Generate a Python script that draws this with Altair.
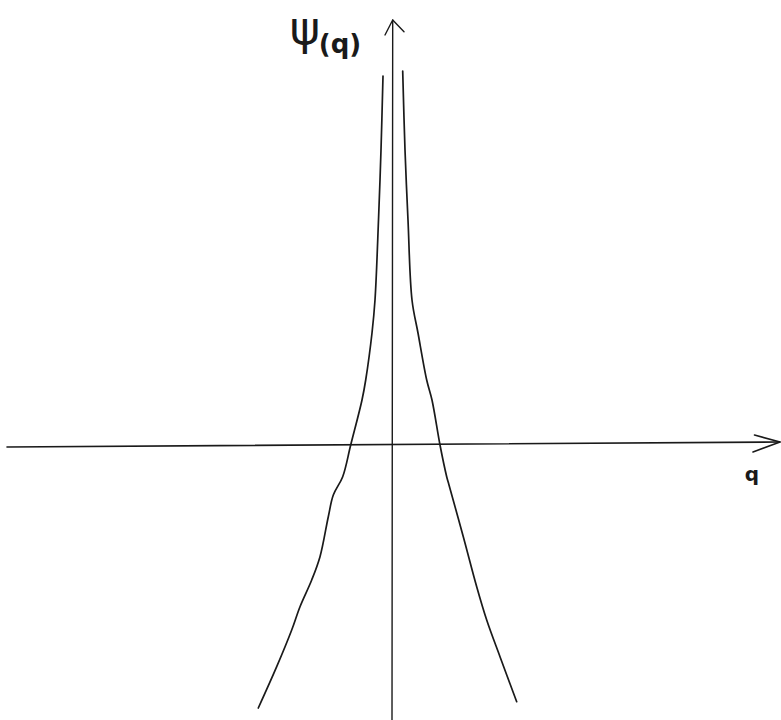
import altair as alt
import pandas as pd

# Left branch of psi(q), diverging as q -> 0 from below
left_q = [-0.17, -0.21, -0.26, -0.33, -0.39, -0.516, -0.59, -0.816,
          -0.976, -1.164, -1.264, -1.43, -1.596, -1.83, -1.996, -2.296, -2.664]
left_psi = [7.38, 5.9, 4.5, 2.9, 2.24, 1.3, 0.9, 0.0,
            -0.634, -1.0, -1.434, -2.234, -2.7, -3.234, -3.7, -4.434, -5.26]

# Right branch of psi(q), diverging as q -> 0 from above
right_q = [0.224, 0.27, 0.33, 0.41, 0.53, 0.704, 0.81, 0.97,
           1.104, 1.15, 1.436, 1.704, 1.904, 2.17, 2.504]
right_psi = [7.48, 5.9, 4.5, 2.9, 2.24, 1.3, 0.9, 0.0,
             -0.634, -0.8, -1.834, -2.834, -3.5, -4.234, -5.134]

# Hand-drawn axes and their arrowheads
q_axis_q = [-7.69, 7.77]
q_axis_psi = [-0.04, 0.06]
q_head_q = [7.26, 7.77, 7.23]
q_head_psi = [0.2, 0.06, -0.14]
psi_axis_q = [0.024, 0.01]
psi_axis_psi = [8.5, -5.5]
psi_head_q = [-0.13, 0.024, 0.25]
psi_head_psi = [8.2, 8.5, 8.266]

# Axis labels
label_psi = "ψ"
label_psi_arg = "(q)"
label_q = "q"

Q_DOMAIN = [-7.83, 7.79]
PSI_DOMAIN = [-5.5, 8.9]


def segment(name, qs, ps, width):
    return pd.DataFrame({"seg": name, "i": range(len(qs)), "q": qs, "psi": ps, "w": width})


branches = pd.concat([
    segment("left", left_q, left_psi, 1.7),
    segment("right", right_q, right_psi, 1.7),
], ignore_index=True)

axes = pd.concat([
    segment("q_axis", q_axis_q, q_axis_psi, 1.6),
    segment("q_head", q_head_q, q_head_psi, 1.6),
    segment("psi_axis", psi_axis_q, psi_axis_psi, 1.4),
    segment("psi_head", psi_head_q, psi_head_psi, 1.4),
], ignore_index=True)

xs = alt.Scale(domain=Q_DOMAIN, nice=False, zero=False)
ys = alt.Scale(domain=PSI_DOMAIN, nice=False, zero=False)

enc = dict(
    x=alt.X("q:Q", scale=xs, axis=None),
    y=alt.Y("psi:Q", scale=ys, axis=None),
    detail="seg:N",
    order="i:Q",
    strokeWidth=alt.StrokeWidth("w:Q", scale=None, legend=None),
)

curves = alt.Chart(branches).mark_line(
    color="#1a1a1a", strokeCap="round", strokeJoin="round", interpolate="catmull-rom"
).encode(**enc)

axis_lines = alt.Chart(axes).mark_line(
    color="#1a1a1a", strokeCap="round", strokeJoin="round"
).encode(**enc)

psi_text = alt.Chart(pd.DataFrame({"q": [-1.73], "psi": [8.3], "t": [label_psi]})).mark_text(
    font="DejaVu Sans", fontSize=46, color="#1a1a1a", align="center", baseline="middle"
).encode(x=alt.X("q:Q", scale=xs), y=alt.Y("psi:Q", scale=ys), text="t:N")

psi_arg_text = alt.Chart(pd.DataFrame({"q": [-1.03], "psi": [8.0], "t": [label_psi_arg]})).mark_text(
    font="DejaVu Sans", fontSize=26, fontWeight="bold", color="#1a1a1a", align="center", baseline="middle"
).encode(x=alt.X("q:Q", scale=xs), y=alt.Y("psi:Q", scale=ys), text="t:N")

q_text = alt.Chart(pd.DataFrame({"q": [7.21], "psi": [-0.6], "t": [label_q]})).mark_text(
    font="DejaVu Sans", fontSize=20, fontWeight="bold", color="#1a1a1a", align="center", baseline="middle"
).encode(x=alt.X("q:Q", scale=xs), y=alt.Y("psi:Q", scale=ys), text="t:N")

chart = alt.layer(axis_lines, curves, psi_text, psi_arg_text, q_text).properties(
    width=781, height=720, padding=0, autosize=alt.AutoSizeParams(type="none"),
    background="white",
).configure_view(stroke=None)

chart.save("out.html", embed_options={"renderer": "svg", "actions": False})
